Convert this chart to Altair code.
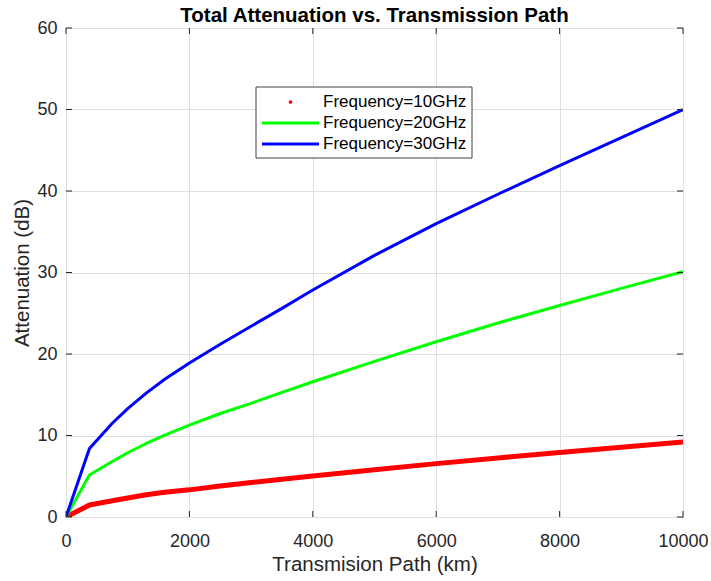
import altair as alt
import pandas as pd

# ---- data ----
dist_km = [0, 380, 750, 1000, 1300, 1600, 2000, 2500, 3000, 3500, 4000,
           5000, 6000, 7000, 8000, 9000, 10000]
att_10ghz = [0, 1.47, 2.0, 2.33, 2.72, 3.03, 3.33, 3.8, 4.22, 4.63, 5.03,
             5.8, 6.55, 7.25, 7.9, 8.55, 9.2]
att_20ghz = [0, 5.15, 6.8, 7.88, 9.02, 10.04, 11.28, 12.7, 13.95, 15.3, 16.6,
             19.1, 21.5, 23.8, 25.95, 28.05, 30.1]
att_30ghz = [0, 8.4, 11.5, 13.3, 15.2, 16.9, 18.9, 21.2, 23.4, 25.6, 27.85,
             32.1, 36.0, 39.6, 43.1, 46.55, 50.0]

series_names = ["Frequency=10GHz", "Frequency=20GHz", "Frequency=30GHz"]
series_colors = ["#ff0000", "#00ff00", "#0000ff"]
x_ticks = [0, 2000, 4000, 6000, 8000, 10000]
y_ticks = [0, 10, 20, 30, 40, 50, 60]
title_text = "Total Attenuation vs. Transmission Path"

W, H = 617, 489
FONT = "Liberation Sans"
DARK = "#262626"

rows = []
for name, vals in zip(series_names, [att_10ghz, att_20ghz, att_30ghz]):
    for d, v in zip(dist_km, vals):
        rows.append({"d": d, "att": v, "curve": name})
df = pd.DataFrame(rows)

x_enc = alt.X(
    "d:Q",
    scale=alt.Scale(domain=[0, 10000], nice=False),
    axis=alt.Axis(
        values=x_ticks, format="d", title="Transmision Path (km)",
        grid=True, ticks=False, tickSize=0, domain=False,
        labelPadding=29, labelBaseline="alphabetic",
        labelFlush=False, labelOverlap=False,
        titleY=53, titleBaseline="alphabetic",
    ),
)
y_enc = alt.Y(
    "att:Q",
    scale=alt.Scale(domain=[0, 60], nice=False),
    axis=alt.Axis(
        values=y_ticks, format="d", title="Attenuation (dB)",
        grid=True, ticks=False, tickSize=0, domain=False,
        labelPadding=9, labelFlush=False, labelOverlap=False,
        titleX=-38, titleBaseline="alphabetic",
    ),
)
stroke_enc = alt.Stroke(
    "curve:N",
    scale=alt.Scale(domain=series_names, range=series_colors),
    legend=None,
)

base = alt.Chart(df)
red_line = base.transform_filter(
    alt.datum.curve == series_names[0]
).mark_line(strokeWidth=5, clip=True, strokeJoin="round").encode(
    x=x_enc, y=y_enc, stroke=stroke_enc
)
other_lines = base.transform_filter(
    alt.datum.curve != series_names[0]
).mark_line(strokeWidth=3, clip=True, strokeJoin="round").encode(
    x=x_enc, y=y_enc, stroke=stroke_enc
)

# inward tick marks (MATLAB style)
yt = pd.DataFrame({"att": y_ticks})
xt = pd.DataFrame({"d": x_ticks})
tick_left = alt.Chart(yt).mark_rule(color=DARK, strokeWidth=1).encode(
    y="att:Q", x=alt.value(0), x2=alt.value(6))
tick_right = alt.Chart(yt).mark_rule(color=DARK, strokeWidth=1).encode(
    y="att:Q", x=alt.value(W - 6), x2=alt.value(W))
tick_bottom = alt.Chart(xt).mark_rule(color=DARK, strokeWidth=1).encode(
    x="d:Q", y=alt.value(H - 6), y2=alt.value(H))
tick_top = alt.Chart(xt).mark_rule(color=DARK, strokeWidth=1).encode(
    x="d:Q", y=alt.value(0), y2=alt.value(6))

one = pd.DataFrame({"k": [0]})

# title as a text mark centred over the plot area
title_mark = alt.Chart(one).mark_text(
    text=title_text, font=FONT, fontSize=20.5, fontWeight="bold",
    color="black", align="center", baseline="alphabetic",
).encode(x=alt.value(W / 2), y=alt.value(-6.5))

# legend box (MATLAB style, red series drawn with dots)
LX, LY, LW, LH = 190, 59, 216, 71
ROW0, ROWSTEP = 74, 21
SYM_X0, SYM_X1, LABEL_X = 196, 253, 257
legend_parts = [
    alt.Chart(one).mark_rect(fill="white", stroke="#404040", strokeWidth=1).encode(
        x=alt.value(LX), x2=alt.value(LX + LW),
        y=alt.value(LY), y2=alt.value(LY + LH))
]
for i, (name, col) in enumerate(zip(series_names, series_colors)):
    yy = ROW0 + ROWSTEP * i
    if i == 0:
        legend_parts.append(
            alt.Chart(one).mark_circle(color=col, size=14, opacity=1).encode(
                x=alt.value((SYM_X0 + SYM_X1) / 2), y=alt.value(yy)))
    else:
        legend_parts.append(
            alt.Chart(one).mark_rule(color=col, strokeWidth=3).encode(
                x=alt.value(SYM_X0), x2=alt.value(SYM_X1), y=alt.value(yy)))
    legend_parts.append(
        alt.Chart(one).mark_text(
            text=name, font=FONT, fontSize=17, color="black",
            align="left", baseline="middle",
        ).encode(x=alt.value(LABEL_X), y=alt.value(yy)))

chart = alt.layer(
    red_line, other_lines, tick_left, tick_right, tick_bottom, tick_top,
    *legend_parts, title_mark,
).properties(
    width=W, height=H,
    autosize=alt.AutoSizeParams(type="none"),
    padding={"left": 66, "top": 28, "right": 28, "bottom": 64},
    background="white",
).configure_view(
    stroke=DARK, strokeWidth=1
).configure_axis(
    gridColor="#dfdfdf", gridWidth=1,
    labelFont=FONT, labelFontSize=18, labelColor=DARK,
    titleFont=FONT, titleFontSize=20.5, titleFontWeight="normal",
    titleColor=DARK,
)

chart.save("out.html", embed_options={"renderer": "svg", "actions": False})
